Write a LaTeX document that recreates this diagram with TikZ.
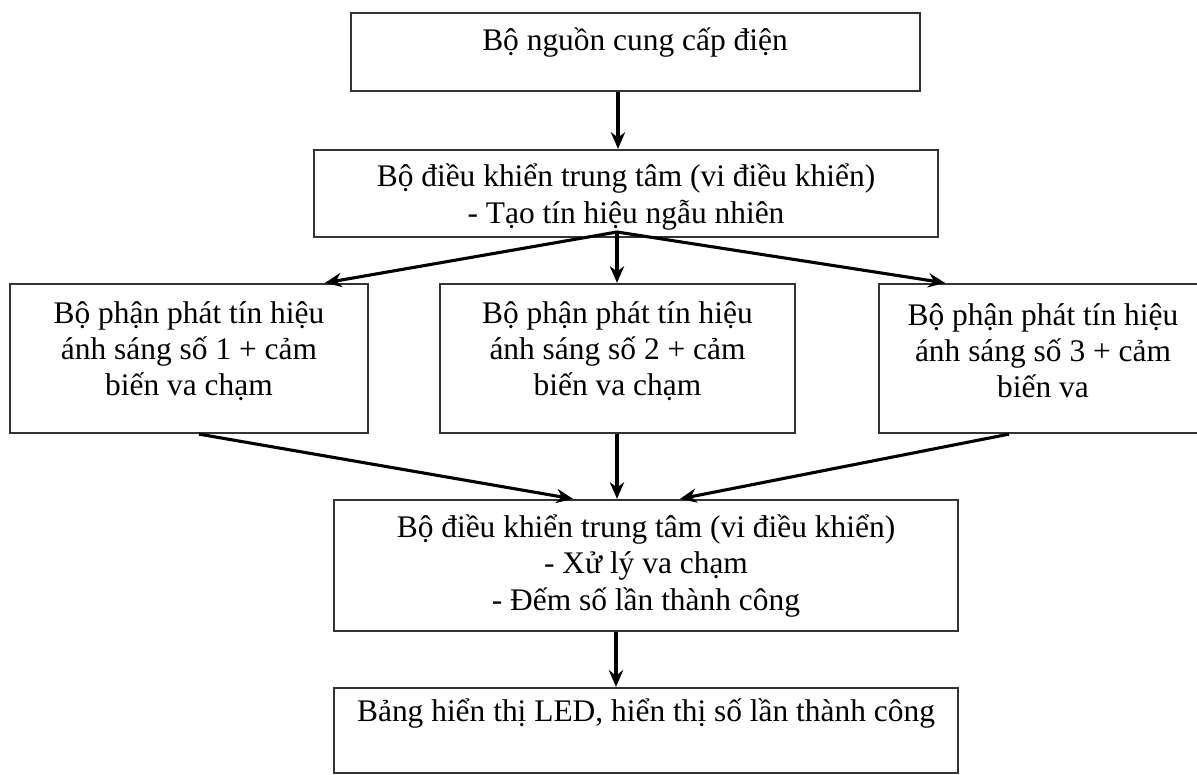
\documentclass[tikz,border=0pt]{standalone}
\usepackage{fontspec}
\setmainfont{Liberation Serif}
\usetikzlibrary{arrows.meta}
\begin{document}
\begin{tikzpicture}[x=0.42pt,y=-0.42pt,
  box/.style={draw=black!80, line width=0.95pt, inner sep=0pt, rectangle},
  txt/.style={align=center, font=\fontsize{13.2pt}{15.2pt}\selectfont, inner sep=0pt},
  arr/.style={draw=black, line width=1.3pt, -{Stealth[length=7pt,width=6pt]}}]
\clip (0,0) rectangle (1197,775);
\fill[white] (0,0) rectangle (1197,775);
% boxes
\node[box, minimum width=569*0.42pt, minimum height=78*0.42pt] (b1) at (635.5,52) {};
\node[box, minimum width=624*0.42pt, minimum height=87*0.42pt] (b2) at (626,193.5) {};
\node[box, minimum width=358*0.42pt, minimum height=149*0.42pt] (b3a) at (189,358.5) {};
\node[box, minimum width=355*0.42pt, minimum height=149*0.42pt] (b3b) at (617.5,358.5) {};
\node[box, minimum width=328*0.42pt, minimum height=149*0.42pt] (b3c) at (1043,358.5) {};
\node[box, minimum width=624*0.42pt, minimum height=131*0.42pt] (b4) at (646,565.5) {};
\node[box, minimum width=624*0.42pt, minimum height=85*0.42pt] (b5) at (646,730.5) {};
% texts
\node[txt] (t1) at (635,43) {Bộ nguồn cung cấp điện};
\node[txt] (t2) at (626,197) {Bộ điều khiển trung tâm (vi điều khiển)\\- Tạo tín hiệu ngẫu nhiên};
\node[txt] (t3a) at (189,351) {Bộ phận phát tín hiệu\\ánh sáng số 1 + cảm\\biến va chạm};
\node[txt] (t3b) at (617.5,351) {Bộ phận phát tín hiệu\\ánh sáng số 2 + cảm\\biến va chạm};
\node[txt] (t3c) at (1043,351) {Bộ phận phát tín hiệu\\ánh sáng số 3 + cảm\\biến va};
\node[txt] (t4) at (646,566) {Bộ điều khiển trung tâm (vi điều khiển)\\- Xử lý va chạm\\- Đếm số lần thành công};
\node[txt] (t5) at (646,714) {Bảng hiển thị LED, hiển thị số lần thành công};
% connectors
\coordinate (apex) at (617,232);
\draw[arr] (618,0 |- b1.south) -- (618,0 |- b2.north);
\draw[arr] (apex) -- (325,0 |- b3a.north);
\draw[arr] (apex) -- (617,0 |- b3b.north);
\draw[arr] (apex) -- (945,0 |- b3c.north);
\draw[arr] (199,0 |- b3a.south) -- (573,0 |- b4.north);
\draw[arr] (617,0 |- b3b.south) -- (617,0 |- b4.north);
\draw[arr] (1009,0 |- b3c.south) -- (680,0 |- b4.north);
\draw[arr] (616,0 |- b4.south) -- (616,0 |- b5.north);
\end{tikzpicture}
\end{document}
